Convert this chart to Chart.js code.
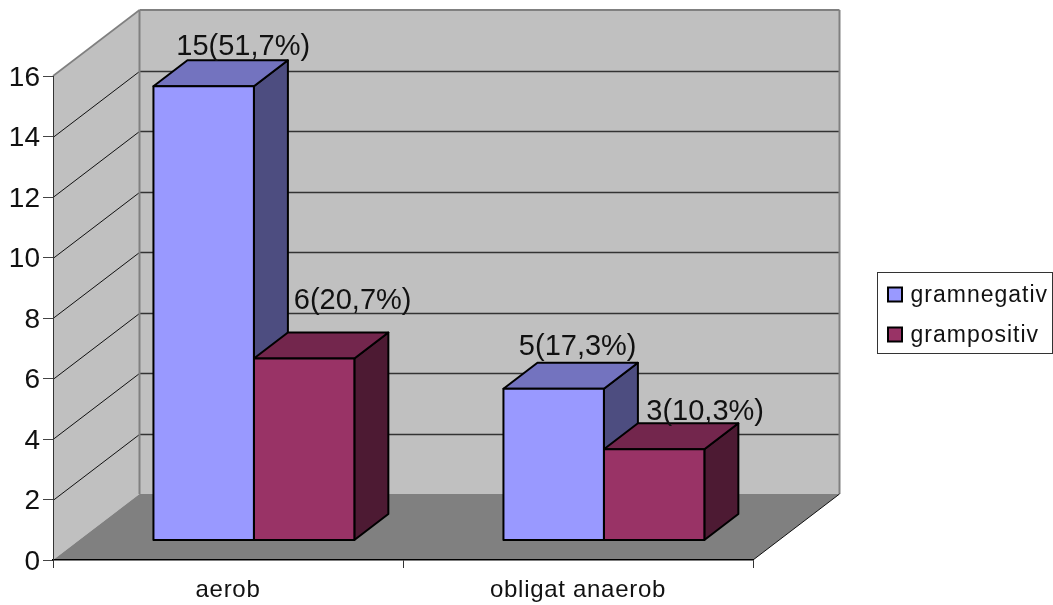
<!DOCTYPE html>
<html>
<head>
<meta charset="utf-8">
<style>html,body{margin:0;padding:0;background:#fff}canvas{display:block}</style>
<script src="https://cdn.jsdelivr.net/npm/chart.js@4/dist/chart.umd.min.js"></script>
</head>
<body>
<canvas id="c" width="1053" height="605"></canvas>
<script>
const categories = ['aerob', 'obligat anaerob'];
const seriesNames = ['gramnegativ', 'grampositiv'];
const gramnegativ = [15, 5];
const grampositiv = [6, 3];
const gramnegativLabels = ['15(51,7%)', '5(17,3%)'];
const grampositivLabels = ['6(20,7%)', '3(10,3%)'];
const yTicks = [0, 2, 4, 6, 8, 10, 12, 14, 16];

// label nudges relative to each bar's top centre
const labelNudges = [[[39.5, -31], [24, -34]], [[48.5, -50], [51, -29]]];

const FONT = '"Liberation Sans", Arial, sans-serif';
const DEPTH = {dx: 86.5, dy: -66};     // wall depth of the 3D box
const BAR_DEPTH = {dx: 34, dy: -26};   // depth of each bar
const BAR_SHIFT_X = 25.9;              // bars stand inside the box
const STYLES = [
  {front: '#9999FF', top: '#7373BF', side: '#4D4D80'},
  {front: '#993366', top: '#73264D', side: '#4D1A33'}
];
const allLabels = [gramnegativLabels, grampositivLabels];

function poly(ctx, pts, fill, stroke, lw) {
  ctx.beginPath();
  pts.forEach((p, i) => i ? ctx.lineTo(p[0], p[1]) : ctx.moveTo(p[0], p[1]));
  ctx.closePath();
  if (fill) { ctx.fillStyle = fill; ctx.fill(); }
  if (stroke) { ctx.strokeStyle = stroke; ctx.lineWidth = lw; ctx.lineJoin = 'round'; ctx.stroke(); }
}
function line(ctx, x1, y1, x2, y2, color, lw) {
  ctx.beginPath(); ctx.moveTo(x1, y1); ctx.lineTo(x2, y2);
  ctx.strokeStyle = color; ctx.lineWidth = lw; ctx.stroke();
}

const box3d = {
  id: 'box3d',
  beforeDraw(chart) {
    const ctx = chart.ctx, {x, y} = chart.scales;
    const L = x.left, R = x.right, B = y.getPixelForValue(0), T = y.getPixelForValue(16);
    const dx = DEPTH.dx, dy = DEPTH.dy;
    if (!x.__spaced) {
      x.__spaced = true;
      const orig = x.drawLabels;
      x.drawLabels = function (a) {
        ctx.save(); ctx.letterSpacing = '0.7px'; orig.call(this, a); ctx.restore();
      };
    }
    ctx.save();
    ctx.fillStyle = '#fff'; ctx.fillRect(0, 0, chart.width, chart.height);
    poly(ctx, [[L + dx, T + dy], [R + dx, T + dy], [R + dx, B + dy], [L + dx, B + dy]], '#C0C0C0');
    poly(ctx, [[L, T], [L + dx, T + dy], [L + dx, B + dy], [L, B]], '#C0C0C0');
    poly(ctx, [[L, B], [R, B], [R + dx, B + dy], [L + dx, B + dy]], '#808080');
    yTicks.forEach(v => {
      if (v === 0 || v === 16) return;
      const py = Math.round(y.getPixelForValue(v)) + 0.5;
      line(ctx, L, py, L + dx, py + dy, '#111', 1);
      line(ctx, L + dx, py + dy, R + dx, py + dy, '#333', 1.4);
    });
    const g = '#808080';
    line(ctx, L, T, L + dx, T + dy, g, 1.6);
    line(ctx, L + dx, T + dy, R + dx, T + dy, g, 2);
    line(ctx, L + dx, T + dy, L + dx, B + dy, g, 2);
    line(ctx, R + dx, T + dy, R + dx, B + dy, g, 2);
    line(ctx, R, B, R + dx, B + dy, '#111', 1);
    ctx.restore();
  },
  beforeDatasetsDraw(chart) {
    // side and top faces, left series first so the right bar overlaps it
    const ctx = chart.ctx, d = BAR_DEPTH;
    ctx.save();
    ctx.translate(BAR_SHIFT_X, 0);
    STYLES.forEach((st, s) => {
      chart.getDatasetMeta(s).data.forEach(el => {
        const l = el.x - el.width / 2, r = el.x + el.width / 2, t = el.y, b = el.base;
        poly(ctx, [[r, t], [r + d.dx, t + d.dy], [r + d.dx, b + d.dy], [r, b]], st.side, '#000', 2);
        poly(ctx, [[l, t], [r, t], [r + d.dx, t + d.dy], [l + d.dx, t + d.dy]], st.top, '#000', 2);
      });
    });
    ctx.restore();
  },
  beforeDatasetDraw(chart) {
    chart.ctx.save();
    chart.ctx.translate(BAR_SHIFT_X, 0);
  },
  afterDatasetDraw(chart, args) {
    const ctx = chart.ctx;
    chart.getDatasetMeta(args.index).data.forEach(el => {
      const l = el.x - el.width / 2, r = el.x + el.width / 2, t = el.y, b = el.base;
      poly(ctx, [[l, t], [r, t], [r, b], [l, b]], null, '#000', 2);
    });
    ctx.restore();
  },
  afterDatasetsDraw(chart) {
    const ctx = chart.ctx;
    ctx.save();
    ctx.font = '29px ' + FONT;
    ctx.fillStyle = '#111';
    ctx.textAlign = 'center';
    ctx.textBaseline = 'alphabetic';
    allLabels.forEach((labels, s) => {
      chart.getDatasetMeta(s).data.forEach((el, i) => {
        const n = labelNudges[s][i];
        ctx.fillText(labels[i], el.x + BAR_SHIFT_X + n[0], el.y + n[1]);
      });
    });
    // legend
    ctx.strokeStyle = '#333'; ctx.lineWidth = 1;
    ctx.strokeRect(877.5, 272.5, 175, 81);
    ctx.textAlign = 'left';
    ctx.font = '23px ' + FONT;
    ctx.letterSpacing = '1px';
    seriesNames.forEach((name, i) => {
      const yy = 287.5 + i * 40;
      ctx.fillStyle = STYLES[i].front;
      ctx.fillRect(888, yy, 14, 14);
      ctx.strokeStyle = '#000'; ctx.lineWidth = 2;
      ctx.strokeRect(888, yy, 14, 14);
      ctx.fillStyle = '#111';
      ctx.fillText(name, 910.5, yy + 14.5);
    });
    ctx.restore();
  }
};

new Chart(document.getElementById('c'), {
  type: 'bar',
  data: {
    labels: categories,
    datasets: [
      {label: seriesNames[0], data: gramnegativ, backgroundColor: STYLES[0].front, yAxisID: 'y2', clip: false},
      {label: seriesNames[1], data: grampositiv, backgroundColor: STYLES[1].front, yAxisID: 'y2', clip: false}
    ]
  },
  plugins: [box3d],
  options: {
    responsive: false,
    animation: false,
    devicePixelRatio: 1,
    layout: {padding: {top: 76, right: 300, left: 0, bottom: 0}},
    datasets: {bar: {categoryPercentage: 0.574, barPercentage: 1, borderWidth: 0}},
    plugins: {legend: {display: false}, tooltip: {enabled: false}, title: {display: false}},
    scales: {
      x: {
        type: 'category',
        offset: true,
        grid: {display: true, offset: true, drawOnChartArea: false, drawTicks: true, tickLength: 8, color: '#333', lineWidth: 1},
        border: {display: true, color: '#000', width: 1.5},
        ticks: {color: '#111', font: {family: FONT, size: 24}, padding: 8, maxRotation: 0, autoSkip: false},
        afterFit(s) { s.height = 45; s.paddingLeft = 0; s.paddingRight = 0; }
      },
      y: {
        type: 'linear', min: 0, max: 16,
        grid: {display: true, drawOnChartArea: false, drawTicks: true, tickLength: 10, color: '#444', lineWidth: 1},
        border: {display: true, color: '#333', width: 1},
        ticks: {color: '#111', stepSize: 2, font: {family: FONT, size: 28}, padding: 3, labelOffset: 2},
        afterFit(s) { s.width = 53; s.paddingTop = 0; s.paddingBottom = 0; }
      },
      // hidden value scale of the same pitch, whose zero sits where the bars stand
      y2: {type: 'linear', display: false, min: -0.661, max: 15.339}
    }
  }
});
</script>
</body>
</html>
